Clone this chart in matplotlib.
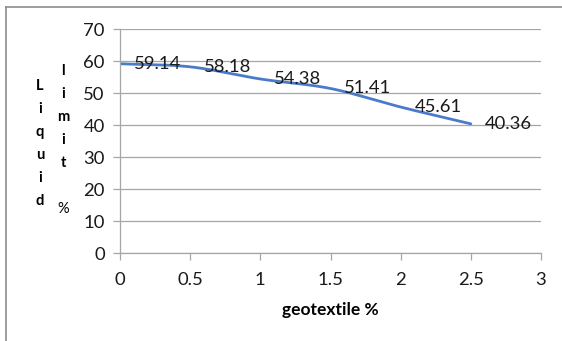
import numpy as np
import matplotlib.pyplot as plt
from matplotlib.lines import Line2D

# geotextile content (%) vs liquid limit (%)
geotextile = [0, 0.5, 1, 1.5, 2, 2.5]
liquid_limit = [59.14, 58.18, 54.38, 51.41, 45.61, 40.36]
x_ticks = [0, 0.5, 1, 1.5, 2, 2.5, 3]
y_ticks = [0, 10, 20, 30, 40, 50, 60, 70]

plt.rcParams['font.family'] = ['Lato', 'DejaVu Sans']


def smooth(xs, ys, n=30):
    """Catmull-Rom style curve through the points (Excel 'smoothed line')."""
    xs = np.asarray(xs, float)
    ys = np.asarray(ys, float)
    px = np.concatenate([[2 * xs[0] - xs[1]], xs, [2 * xs[-1] - xs[-2]]])
    py = np.concatenate([[2 * ys[0] - ys[1]], ys, [2 * ys[-1] - ys[-2]]])
    ox, oy = [], []
    t = np.linspace(0, 1, n)
    for i in range(1, len(px) - 2):
        for arr, out in ((px, ox), (py, oy)):
            p0, p1, p2, p3 = arr[i - 1:i + 3]
            out.extend(0.5 * ((2 * p1) + (-p0 + p2) * t
                              + (2 * p0 - 5 * p1 + 4 * p2 - p3) * t ** 2
                              + (-p0 + 3 * p1 - 3 * p2 + p3) * t ** 3))
    return np.array(ox), np.array(oy)


fig = plt.figure(figsize=(5.62, 3.41), dpi=100)
ax = fig.add_axes([120 / 562, 1 - 253 / 341, 421 / 562, 224 / 341])

sx, sy = smooth(geotextile, liquid_limit)
ax.plot(sx, sy, color='#4a7bc8', lw=2.0, solid_capstyle='round')

for x, y in zip(geotextile, liquid_limit):
    ax.annotate(f'{y:.2f}', (x, y), xytext=(10, 0), textcoords='offset points',
                ha='left', va='center', fontsize=13.3, color='#1a1a1a')

ax.set_xlim(0, 3)
ax.set_ylim(0, 70)
ax.set_xticks(x_ticks)
ax.set_xticklabels([f'{v:g}' for v in x_ticks])
ax.set_yticks(y_ticks)
ax.yaxis.grid(True, color='#a6a6a6', lw=0.9)
ax.set_axisbelow(True)
for side in ('top', 'right'):
    ax.spines[side].set_visible(False)
for side in ('left', 'bottom'):
    ax.spines[side].set_color('#a6a6a6')
    ax.spines[side].set_linewidth(0.9)
ax.tick_params(axis='both', colors='#a6a6a6', length=5, width=0.9,
               labelcolor='#1a1a1a', labelsize=13.3)
ax.tick_params(axis='x', pad=9)
ax.tick_params(axis='y', pad=6)

ax.set_xlabel('geotextile %', fontsize=12.5, fontweight='bold', labelpad=10)

# stacked y-axis title
for i, ch in enumerate('Liquid'):
    fig.text(40 / 562, 1 - (86 + i * 23) / 341, ch, ha='center', va='center',
             fontsize=10.5, fontweight='bold')
for i, ch in enumerate('limit %'):
    if ch == ' ':
        continue
    fig.text(63 / 562, 1 - (71 + i * 23) / 341, ch, ha='center', va='center',
             fontsize=10.5, fontweight='bold' if ch != '%' else 'normal')

# chart area border
fig.add_artist(Line2D([6 / 562, 6 / 562], [0, 1 - 7 / 341], color='#8c8c8c', lw=1.2))
fig.add_artist(Line2D([6 / 562, 1], [1 - 7 / 341, 1 - 7 / 341], color='#8c8c8c', lw=1.2))

fig.savefig('out.png', dpi=100)
